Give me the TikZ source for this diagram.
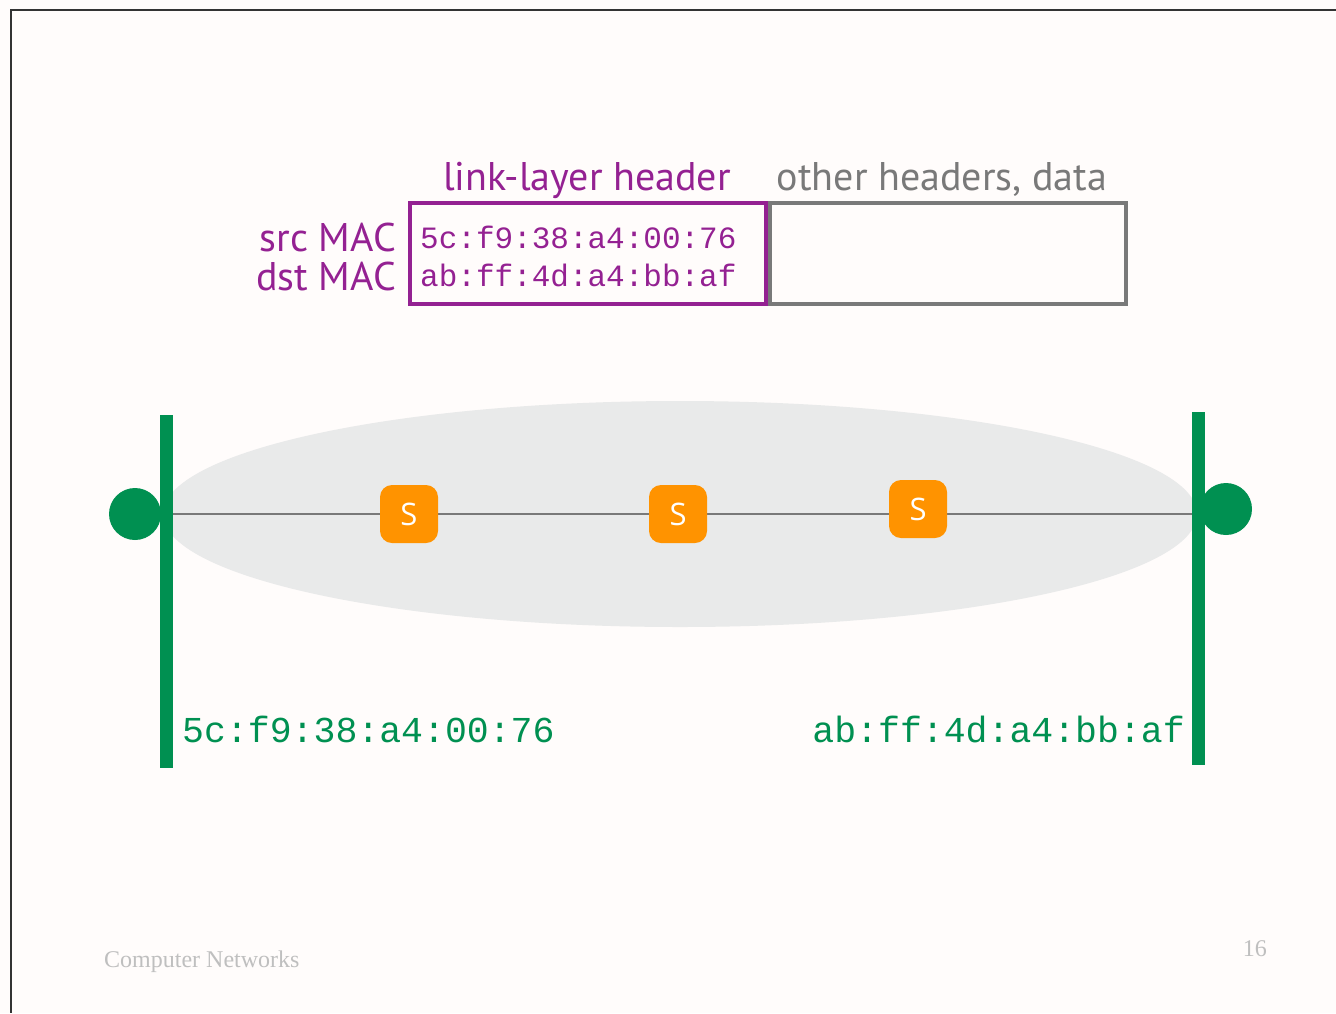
\documentclass[tikz,border=0pt]{standalone}
\usepackage{fontspec}
\setmainfont{Liberation Serif}
\newfontfamily\chalkfont{PT Sans}
\newfontfamily\macfont{Liberation Mono}
\newfontfamily\swfont{Open Sans}
\usetikzlibrary{positioning}
\usetikzlibrary{backgrounds}

\definecolor{plum}{HTML}{942192}
\definecolor{clover}{HTML}{009051}
\definecolor{tangerine}{HTML}{FF9300}
\definecolor{steel}{HTML}{797979}
\definecolor{cloudgray}{HTML}{E9EAEA}
\definecolor{paper}{HTML}{FFFCFB}

\tikzset{
  hdrbox/.style={draw, line width=4pt, inner sep=0pt, minimum height=101pt},
  fieldlabel/.style={font=\chalkfont\fontsize{40}{44}\selectfont, inner sep=0pt},
  macaddr/.style={font=\macfont\fontsize{31}{36}\selectfont, text=plum, inner sep=0pt, anchor=base west},
  hostaddr/.style={font=\macfont\fontsize{36.5}{40}\selectfont, text=clover, inner sep=0pt},
  host/.style={circle, fill=clover, inner sep=0pt, minimum size=52pt},
  switchbox/.style={rounded corners=12pt, fill=tangerine, inner sep=0pt, minimum size=58pt,
    text=white, font=\swfont\fontsize{31}{33}\selectfont},
  bus/.style={draw=clover, line width=13pt},
  link/.style={draw=steel, line width=2pt},
  footer/.style={font=\fontsize{24}{26}\selectfont, text=black!25, inner sep=0pt}
}

\begin{document}
\begin{tikzpicture}[x=1pt, y=-1pt]
  \useasboundingbox (0,0) rectangle (1336,1013);

  % frame header
  \node[hdrbox, draw=plum, minimum width=356pt] (lhdr) at (588,253.5) {};
  \node[hdrbox, draw=steel, minimum width=356pt, right=0pt of lhdr] (rest) {};
  \node[fieldlabel, text=plum, anchor=base] (lhlabel) at (587,190) {link-layer header};
  \node[fieldlabel, text=steel, anchor=base] (restlabel) at (942,190) {other headers, data};
  \node[fieldlabel, text=plum, anchor=base east] (srclabel) at (396,251) {src MAC};
  \node[fieldlabel, text=plum, anchor=base east] (dstlabel) at (396,290) {dst MAC};
  \node[macaddr] (srcaddr) at (420,248) {5c:f9:38:a4:00:76};
  \node[macaddr] (dstaddr) at (420,286) {ab:ff:4d:a4:bb:af};

  % link
  \node[host] (lhost) at (135,514) {};
  \node[host] (rhost) at (1226,509) {};
  \node[switchbox] (sw1) at (409,514) {S};
  \node[switchbox] (sw2) at (678,514) {S};
  \node[switchbox] (sw3) at (918,509) {S};
  \draw[bus] (166,415) -- (166,768);
  \draw[bus] (1198,412) -- (1198,765);

  \node[hostaddr, anchor=base west] (laddr) at (182,742) {5c:f9:38:a4:00:76};
  \node[hostaddr, anchor=base east] (raddr) at (1185,742) {ab:ff:4d:a4:bb:af};

  \node[footer, anchor=base west] (course) at (104,967) {Computer Networks};
  \node[footer, anchor=base east] (page) at (1267,956) {16};

  \begin{pgfonlayer}{background}
    \fill[paper] (0,0) rectangle (1336,1013);
    \draw[black!80, line width=1.2pt] (1336,10) -- (11,10) -- (11,1013);
    \fill[cloudgray] (680,514) ellipse [x radius=517, y radius=113];
    \draw[link] (lhost.center) -- (lhost.center -| rhost.center);
  \end{pgfonlayer}
\end{tikzpicture}
\end{document}
